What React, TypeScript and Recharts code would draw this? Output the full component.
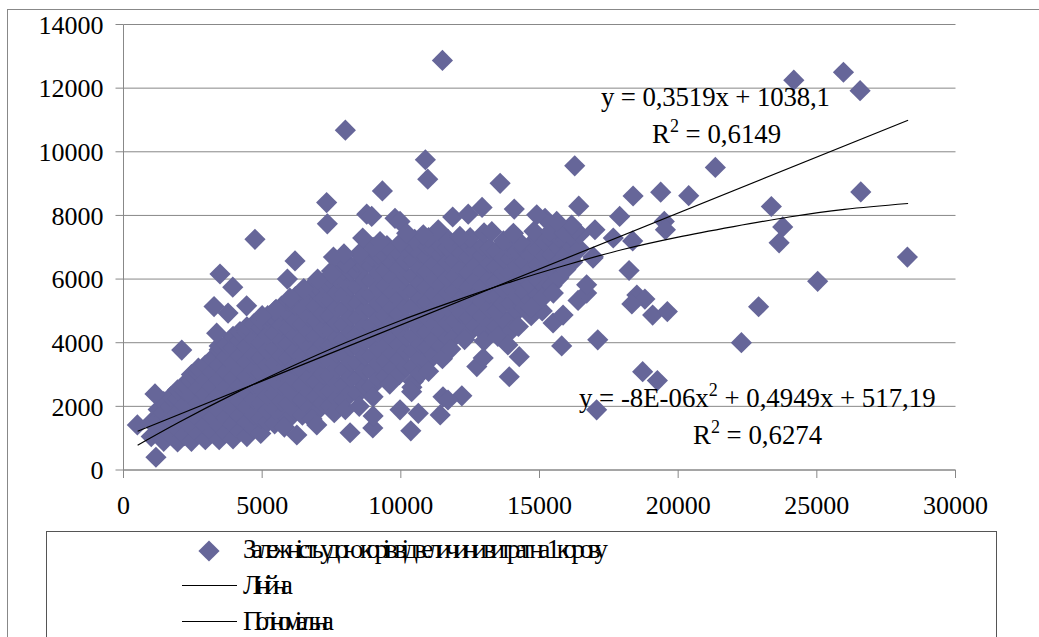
import { ScatterChart, Scatter, XAxis, YAxis, CartesianGrid } from "recharts";

const FONT = '"Liberation Serif", serif';
const MARK = "#666699";

const xTicks = [0, 5000, 10000, 15000, 20000, 25000, 30000];
const yTicks = [0, 2000, 4000, 6000, 8000, 10000, 12000, 14000];

const seriesName = "Залежність удою корів від величини витрат на 1 корову";
const linearName = "Лінійна";
const polyName = "Поліноміальна";

// points standing clear of the main cloud
const loosePoints = [
  [500, 1415], [1170, 400], [1136, 2390], [3480, 6160], [3940, 5745], [3265, 5135],
  [2100, 3770], [6185, 6570], [5910, 6000], [4440, 5160], [3770, 4930], [3360, 4300],
  [6250, 1100], [8170, 1170], [6970, 1415], [8990, 1320], [9970, 1890], [10360, 1230],
  [10630, 1780], [11420, 1730], [11520, 2300], [12200, 2330], [11700, 2200], [10390, 2460],
  [12740, 3250], [12970, 3520], [13910, 2930], [13860, 3930], [14270, 3560], [14240, 4510],
  [15800, 3900], [17100, 4090], [17060, 1890], [18720, 3090], [19250, 2810],
  [15490, 4620], [15850, 4870], [16390, 5330], [16700, 5560], [16700, 5820],
  [18510, 5500], [18800, 5370], [18330, 5220], [19080, 4870], [19610, 4980],
  [18230, 6270], [18360, 7200], [16940, 6700], [16930, 6660], [17660, 7290],
  [17000, 7550], [16160, 7700], [15620, 7810], [15200, 7910], [14900, 8020],
  [17890, 7970], [18375, 8610], [19370, 8730], [20380, 8620], [19500, 7810], [19540, 7550],
  [16415, 8290], [16270, 9560], [21340, 9510], [23360, 8280], [26585, 8740],
  [23770, 7640], [23640, 7140], [28265, 6690], [25030, 5930], [22280, 4000], [22900, 5130],
  [24170, 12250], [25960, 12500], [26560, 11920], [11500, 12870], [8000, 10680],
  [10885, 9750], [10970, 9140], [9335, 8770], [13580, 9010], [7325, 8405], [7350, 7735],
  [14090, 8200], [11870, 7950], [12430, 8040], [12930, 8250], [8770, 8040], [8950, 7970],
  [9790, 7910], [9970, 7810], [14060, 7440], [13280, 7490], [11350, 7550], [12130, 7340],
  [10810, 7390], [9250, 7180], [8625, 7290], [10210, 7440], [7950, 6790], [7570, 6690],
  [7510, 6160], [4740, 7250], [15100, 5400], [14700, 5100], [15500, 5560], [9000, 1700],
];

// upper rim of the cloud
const upperEdge = [
  [5000, 4850], [5500, 5050], [6000, 5400], [6500, 5700], [7000, 6000], [7500, 6250],
  [8000, 6500], [8500, 6800], [9000, 7000], [9500, 7050], [10000, 7150], [10500, 7250],
  [11000, 7300], [11700, 7250], [12500, 7300], [13000, 7450], [13700, 7200], [14300, 7150],
  [14800, 7500], [15400, 7500], [15900, 7450], [16300, 7550],
];

// lower rim of the cloud
const lowerEdge = [
  [5800, 1350], [6800, 1600], [7600, 1800], [8000, 1900], [8500, 2000], [9000, 2300],
  [9600, 2700], [10400, 2600], [11000, 3100], [11500, 3500], [11800, 3800], [12300, 4100],
  [13000, 4050], [13500, 4200], [14000, 4400], [14700, 4850], [15100, 5000],
];

// main cloud, one row per x: [x, y, y, ...]
const cloudRows = [
  [1000, 1050, 1500],
  [1250, 1150, 1600, 1900],
  [1450, 900, 1350, 1800, 2150],
  [1700, 1100, 1550, 2000, 2300],
  [1950, 880, 1300, 1780, 2250, 2520],
  [2200, 1080, 1540, 2020, 2490, 2700],
  [2450, 900, 1370, 1850, 2320, 2800, 3000],
  [2700, 1140, 1610, 2090, 2560, 3040, 3200],
  [2950, 950, 1420, 1890, 2370, 2840, 3300],
  [3200, 1180, 1650, 2130, 2610, 3080, 3500],
  [3450, 950, 1400, 1880, 2350, 2830, 3300, 3780, 3900],
  [3700, 1170, 1640, 2120, 2590, 3070, 3540, 3950],
  [3950, 980, 1450, 1930, 2400, 2880, 3350, 3830, 4200],
  [4200, 1230, 1690, 2170, 2640, 3120, 3590, 4070, 4350],
  [4450, 1050, 1500, 1980, 2450, 2930, 3400, 3880, 4350, 4500],
  [4700, 1300, 1740, 2220, 2690, 3170, 3640, 4120, 4590],
  [4950, 1150, 1620, 2100, 2570, 3050, 3520, 4000, 4470, 4700],
  [5200, 1500, 1860, 2340, 2810, 3290, 3760, 4240, 4710, 4850],
  [5450, 1450, 1920, 2400, 2870, 3350, 3820, 4300, 4770, 5000],
  [5700, 1700, 2160, 2640, 3110, 3590, 4060, 4540, 5010, 5150],
  [5950, 1600, 2080, 2550, 3030, 3500, 3980, 4450, 4930, 5300],
  [6200, 1850, 2320, 2790, 3270, 3740, 4220, 4690, 5170, 5450],
  [6450, 1720, 2200, 2670, 3150, 3620, 4100, 4570, 5050, 5520, 5620],
  [6700, 1960, 2440, 2910, 3390, 3860, 4340, 4810, 5290, 5700],
  [6950, 1820, 2300, 2770, 3250, 3720, 4200, 4670, 5150, 5620, 5800],
  [7200, 2100, 2540, 3010, 3490, 3960, 4440, 4910, 5390, 5850],
  [7450, 2000, 2480, 2950, 3430, 3900, 4380, 4850, 5330, 5800, 6000],
  [7700, 2240, 2720, 3190, 3670, 4140, 4620, 5090, 5570, 6040, 6150],
  [7950, 2200, 2670, 3150, 3620, 4100, 4570, 5050, 5520, 6000, 6300],
  [8200, 2440, 2910, 3390, 3860, 4340, 4810, 5290, 5760, 6240, 6400],
  [8450, 2400, 2880, 3350, 3830, 4300, 4780, 5250, 5730, 6200, 6520],
  [8700, 2640, 3120, 3590, 4070, 4540, 5020, 5490, 5970, 6440, 6600],
  [8950, 2620, 3100, 3570, 4050, 4520, 5000, 5470, 5950, 6420, 6700],
  [9200, 2860, 3340, 3810, 4290, 4760, 5240, 5710, 6190, 6660, 6780],
  [9450, 2950, 3430, 3900, 4380, 4850, 5330, 5800, 6280, 6750],
  [9700, 3190, 3670, 4140, 4620, 5090, 5570, 6040, 6520, 6850],
  [9950, 3000, 3480, 3950, 4430, 4900, 5380, 5850, 6330, 6800, 6920],
  [10200, 3240, 3720, 4190, 4670, 5140, 5620, 6090, 6570, 6950],
  [10450, 2780, 3250, 3730, 4200, 4680, 5150, 5630, 6100, 6580, 7000],
  [10700, 3020, 3490, 3970, 4440, 4920, 5390, 5870, 6340, 6820, 7020],
  [10950, 3380, 3850, 4330, 4800, 5280, 5750, 6230, 6700, 7050],
  [11200, 3620, 4090, 4570, 5040, 5520, 5990, 6470, 6940],
  [11450, 3900, 4380, 4850, 5330, 5800, 6280, 6750, 7050],
  [11700, 4140, 4620, 5090, 5570, 6040, 6520, 6990],
  [11950, 4200, 4680, 5150, 5630, 6100, 6580, 7000],
  [12200, 4440, 4920, 5390, 5870, 6340, 6820],
  [12450, 4300, 4780, 5250, 5730, 6200, 6680, 7050],
  [12700, 4540, 5020, 5490, 5970, 6440, 6920],
  [12950, 4350, 4830, 5300, 5780, 6250, 6730, 7050],
  [13200, 4590, 5070, 5540, 6020, 6490, 6970],
  [13450, 4500, 4980, 5450, 5930, 6400, 6880],
  [13700, 4740, 5220, 5690, 6170, 6640],
  [13950, 4750, 5230, 5700, 6180, 6650, 6950],
  [14200, 4990, 5470, 5940, 6420, 6890],
  [14450, 5100, 5580, 6050, 6530, 6950],
  [14700, 5340, 5820, 6290, 6770, 7100],
  [14950, 5500, 5980, 6450, 6930, 7350],
  [15200, 5740, 6220, 6690, 7170],
  [15450, 5800, 6280, 6750, 7230],
  [15700, 6040, 6520, 6990, 7300],
  [15950, 6300, 6780, 7250],
  [16200, 6540, 7020, 7300],
  [16450, 6950, 7400],
];

// trend lines
const linearFit = [
  [510, 1218],
  [28290, 10993],
];
const polyFit = [
  [510, 780], [2000, 1500], [4000, 2400], [6000, 3230], [8000, 4000], [10000, 4700],
  [12000, 5330], [14000, 5920], [16000, 6450], [18000, 6930], [20000, 7320],
  [22000, 7650], [24000, 7950], [26000, 8190], [28290, 8375],
];

const toPoints = (list: number[][]) => list.map(([x, y]) => ({ x, y }));

const points = [
  ...cloudRows.flatMap(([x, ...ys]) => ys.map((y) => ({ x, y }))),
  ...toPoints(upperEdge),
  ...toPoints(lowerEdge),
  ...toPoints(loosePoints),
];

function Diamond({ cx, cy }: { cx?: number; cy?: number }) {
  const r = 10.6;
  return (
    <path
      d={`M${cx} ${cy! - r}L${cx! + r} ${cy}L${cx} ${cy! + r}L${cx! - r} ${cy}Z`}
      fill={MARK}
    />
  );
}

const NoMark = () => <g />;

const sup = (text: string) => (
  <tspan dy={-11} fontSize={18}>
    {text}
  </tspan>
);

function Overlay() {
  return (
    <svg
      width={1039}
      height={637}
      style={{ position: "absolute", left: 0, top: 0, fontFamily: FONT }}
      fill="#000"
      fontSize={26.8}
    >
      <text x={601} y={106} textLength={229}>
        y = 0,3519x + 1038,1
      </text>
      <text x={652} y={143}>
        R{sup("2")}
        <tspan dy={11}> = 0,6149</tspan>
      </text>
      <text x={579} y={407}>
        y = -8E-06x{sup("2")}
        <tspan dy={11}> + 0,4949x + 517,19</tspan>
      </text>
      <text x={693} y={444}>
        R{sup("2")}
        <tspan dy={11}> = 0,6274</tspan>
      </text>

      <rect x={46.5} y={531.5} width={950} height={120} fill="#fff" stroke="#555" />
      <Diamond cx={209} cy={551} />
      <text x={243} y={558} textLength={365} lengthAdjust="spacing">
        {seriesName}
      </text>
      <line x1={182} x2={237} y1={585.5} y2={585.5} stroke="#000" />
      <text x={243} y={594} textLength={50} lengthAdjust="spacing">
        {linearName}
      </text>
      <line x1={182} x2={237} y1={621.5} y2={621.5} stroke="#000" />
      <text x={243} y={630} textLength={91} lengthAdjust="spacing">
        {polyName}
      </text>
    </svg>
  );
}

export default function App() {
  const tick = { fill: "#000", fontSize: 26, fontFamily: FONT };
  return (
    <div style={{ position: "fixed", inset: 0, overflow: "hidden", background: "#fff" }}>
      <div
        style={{
          position: "absolute",
          left: 7,
          top: 9,
          width: 1100,
          height: 700,
          borderLeft: "1px solid #888",
          borderTop: "1px solid #888",
        }}
      />
      <div style={{ position: "absolute", left: 0, top: 0 }}>
        <ScatterChart
          width={1039}
          height={637}
          margin={{ top: 24.5, right: 83.5, bottom: 0, left: 0 }}
        >
          <CartesianGrid vertical={false} stroke="#888" />
          <XAxis
            type="number"
            dataKey="x"
            domain={[0, 30000]}
            ticks={xTicks}
            height={167}
            interval={0}
            stroke="#888"
            tickSize={8}
            tickMargin={18}
            tick={tick}
          />
          <YAxis
            type="number"
            dataKey="y"
            domain={[0, 14000]}
            ticks={yTicks}
            width={123.5}
            interval={0}
            stroke="#888"
            tickSize={8}
            tickMargin={12}
            tick={tick}
          />
          <Scatter data={points} shape={Diamond} isAnimationActive={false} />
          <Scatter
            data={toPoints(linearFit)}
            shape={NoMark}
            line={{ stroke: "#000", strokeWidth: 1.2 }}
            isAnimationActive={false}
          />
          <Scatter
            data={toPoints(polyFit)}
            shape={NoMark}
            line={{ stroke: "#000", strokeWidth: 1.2 }}
            lineJointType="monotoneX"
            isAnimationActive={false}
          />
        </ScatterChart>
      </div>
      <Overlay />
    </div>
  );
}
